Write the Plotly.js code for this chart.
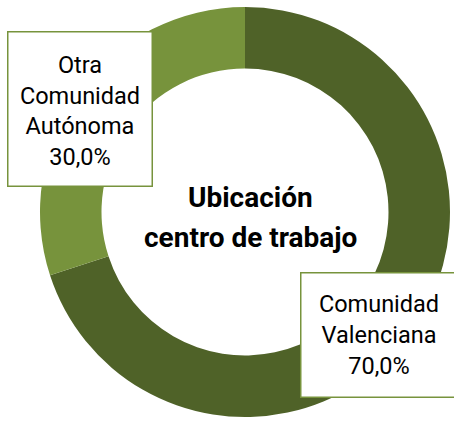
<!DOCTYPE html>
<html>
<head>
<meta charset="utf-8">
<script src="https://cdn.plot.ly/plotly-3.0.1.min.js"></script>
<style>
  html, body { margin: 0; padding: 0; background: #ffffff; }
  #chart { width: 454px; height: 421px; }
</style>
</head>
<body>
<div id="chart"></div>
<script>
// Data
const categories = ['Comunidad Valenciana', 'Otra Comunidad Autónoma'];
const values = [70.0, 30.0];
const colors = ['#4F6228', '#77933C'];
const centerTitle = ['Ubicación', 'centro de trabajo'];

function fmtPct(v) {
  return v.toFixed(1).replace('.', ',') + '%';
}
function labelText(i) {
  return categories[i].split(' ').join('<br>') + '<br>' + fmtPct(values[i]);
}

const W = 454, H = 421;
const trace = {
  type: 'pie',
  labels: categories,
  values: values,
  hole: 0.70,
  sort: false,
  direction: 'clockwise',
  rotation: 0,
  textinfo: 'none',
  hoverinfo: 'none',
  marker: { colors: colors, line: { width: 0 } },
  domain: { x: [40 / W, 450 / W], y: [(H - 417) / H, (H - 7) / H] },
  showlegend: false
};

const labelFont = { family: 'Roboto, "Open Sans", sans-serif', size: 23.5, color: '#000000' };
const titleFont = { family: 'Roboto, "Open Sans", sans-serif', size: 28, color: '#000000' };

const layout = {
  width: W, height: H,
  margin: { l: 0, r: 0, t: 0, b: 0 },
  paper_bgcolor: '#ffffff',
  plot_bgcolor: '#ffffff',
  showlegend: false,
  annotations: [
    {
      xref: 'paper', yref: 'paper',
      x: 378.5 / W, y: (H - 334.5) / H,
      xanchor: 'center', yanchor: 'middle',
      text: labelText(0),
      showarrow: false,
      font: labelFont,
      align: 'center',
      bgcolor: '#ffffff',
      bordercolor: '#77933C',
      borderwidth: 1.5,
      borderpad: 0,
      width: 155, height: 123
    },
    {
      xref: 'paper', yref: 'paper',
      x: 79.5 / W, y: (H - 109.5) / H,
      xanchor: 'center', yanchor: 'middle',
      text: labelText(1),
      showarrow: false,
      font: labelFont,
      align: 'center',
      bgcolor: '#ffffff',
      bordercolor: '#77933C',
      borderwidth: 1.5,
      borderpad: 0,
      width: 143, height: 153,
      yshift: 0
    },
    {
      xref: 'paper', yref: 'paper',
      x: 251 / W, y: (H - 197) / H,
      xanchor: 'center', yanchor: 'middle',
      text: '<b>' + centerTitle[0] + '</b>',
      showarrow: false,
      font: titleFont,
      align: 'center'
    },
    {
      xref: 'paper', yref: 'paper',
      x: 251 / W, y: (H - 237) / H,
      xanchor: 'center', yanchor: 'middle',
      text: '<b>' + centerTitle[1] + '</b>',
      showarrow: false,
      font: titleFont,
      align: 'center'
    }
  ]
};

Plotly.newPlot('chart', [trace], layout, { staticPlot: true, displayModeBar: false }).then(function () {
  // nudge multi-line label text in the left box slightly down to match line positions
  const anns = document.querySelectorAll('.annotation-text-g');
  if (anns[1]) {
    const t = anns[1].querySelector('text');
    if (t) t.setAttribute('transform', 'translate(0,2)');
  }
});
</script>
</body>
</html>
